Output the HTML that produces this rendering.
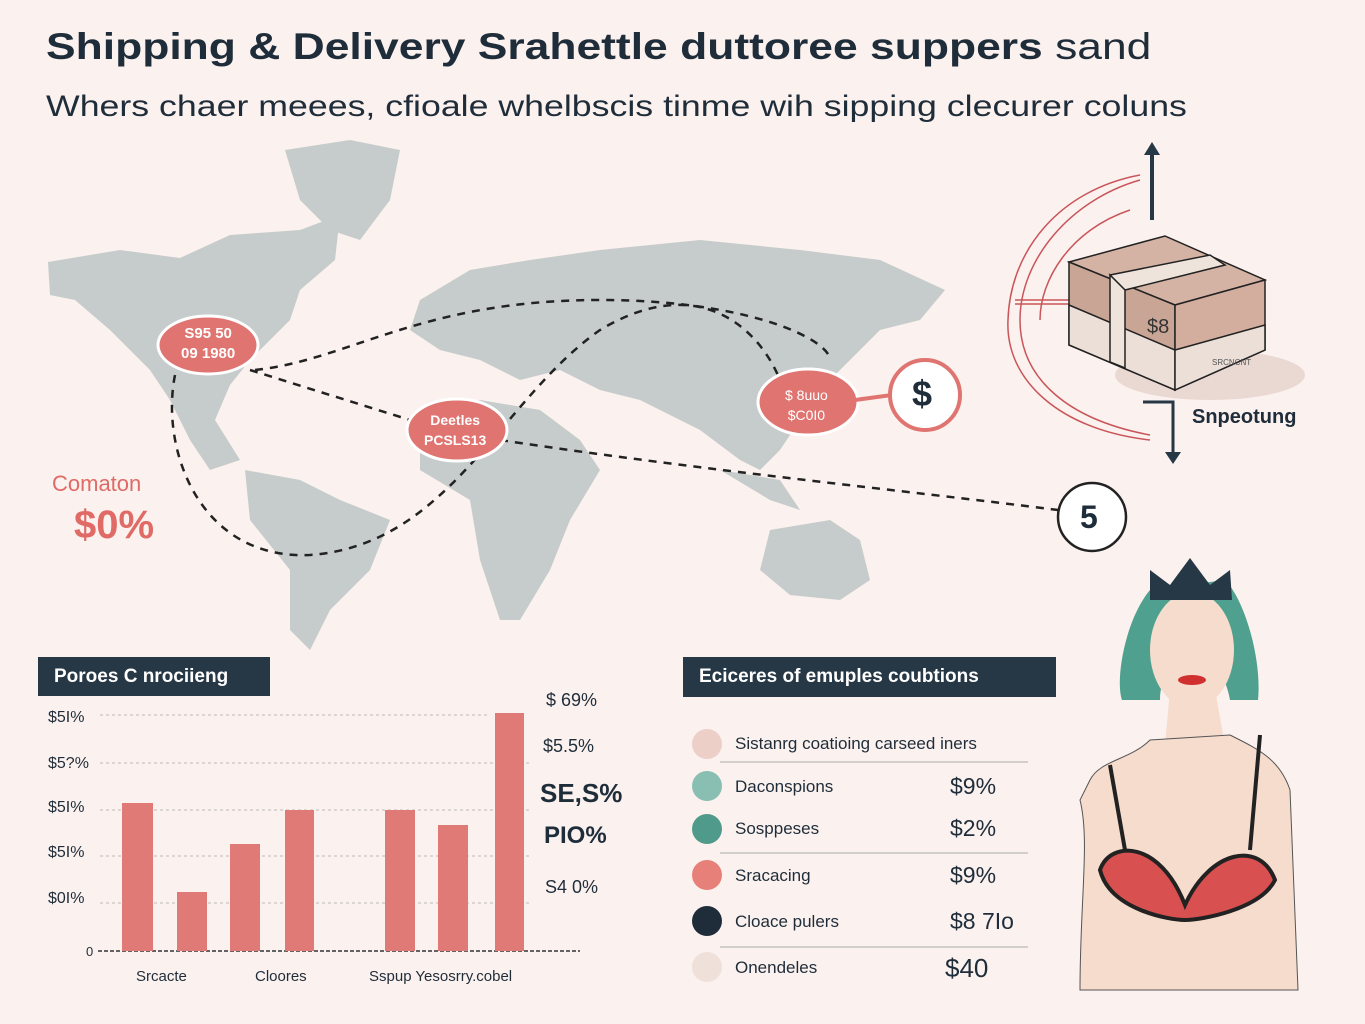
<!DOCTYPE html>
<html><head><meta charset="utf-8"><style>
body{margin:0;width:1365px;height:1024px;background:#fbf1ee;position:relative;overflow:hidden;font-family:"Liberation Sans",sans-serif;color:#1f2d3a}
.a{position:absolute;white-space:nowrap}
.hd{position:absolute;background:#263745;color:#fff;font-weight:bold;font-size:19px;line-height:39px;padding-left:16px}
</style></head><body>
<div class="a" style="left:46px;top:26px;font-size:37px;font-weight:bold;transform:scaleX(1.2);transform-origin:0 0">Shipping &amp; Delivery Srahettle duttoree suppers <span style="font-weight:normal">sand</span></div>
<div class="a" style="left:46px;top:90px;font-size:30px;transform:scaleX(1.19);transform-origin:0 0">Whers chaer meees, cfioale whelbscis tinme wih sipping clecurer coluns</div>
<svg class="a" style="left:0;top:0" width="1365" height="1024">
<g fill="#c6cccb">
<path d="M48 262 L120 250 L180 258 L230 235 L300 230 L340 215 L335 260 L300 290 L290 320 L250 360 L230 385 L215 420 L240 460 L210 470 L190 440 L170 400 L150 370 L110 330 L75 300 L50 295 Z"/>
<path d="M285 150 L350 140 L400 150 L390 200 L360 240 L330 230 L300 200 Z"/>
<path d="M245 470 L300 480 L340 500 L390 520 L370 570 L330 610 L310 650 L290 630 L290 570 L250 520 Z"/>
<path d="M420 300 L470 270 L530 260 L600 250 L700 240 L800 250 L880 260 L945 290 L920 320 L880 330 L860 350 L830 380 L800 420 L780 450 L760 470 L740 460 L700 430 L640 400 L600 390 L560 370 L520 380 L480 360 L440 350 L410 330 Z"/>
<path d="M420 420 L480 400 L540 410 L580 440 L600 470 L570 520 L550 570 L520 620 L500 620 L480 560 L470 500 L420 470 Z"/>
<path d="M720 470 L770 500 L800 510 L780 480 Z"/>
<path d="M770 530 L830 520 L860 540 L870 580 L840 600 L790 595 L760 570 Z"/>
</g>
<g fill="none" stroke="#222" stroke-width="2.5" stroke-dasharray="8 7">
<path d="M255 370 C350 360 420 300 600 300 C750 300 830 340 830 360"/>
<path d="M175 375 C160 450 200 560 310 555 C450 545 500 400 600 330 C700 270 760 330 780 380"/>
<path d="M250 370 L410 420"/>
<path d="M500 440 C700 470 900 490 1058 510"/>
</g>
<ellipse cx="208" cy="345" rx="50" ry="29" fill="#e07470" stroke="#fff" stroke-width="3"/>
<ellipse cx="457" cy="430" rx="50" ry="31" fill="#e07470" stroke="#fff" stroke-width="3"/>
<ellipse cx="808" cy="402" rx="50" ry="33" fill="#e07470" stroke="#fff" stroke-width="3"/>
<path d="M855 400 L892 395" stroke="#e07470" stroke-width="4"/>
<circle cx="925" cy="395" r="35" fill="#fff" stroke="#e07470" stroke-width="4"/>
<circle cx="1092" cy="517" r="34" fill="#fff" stroke="#222" stroke-width="2.5"/>
<g fill="none" stroke="#c9555a" stroke-width="1.5">
<path d="M1140 175 C1060 190 1010 250 1008 320 C1005 380 1060 430 1150 440"/>
<path d="M1140 180 C1070 200 1020 260 1020 320 C1020 380 1070 420 1150 435"/>
<path d="M1130 210 C1070 230 1040 280 1040 320"/>
<path d="M1015 300 L1070 300 M1015 304 L1070 304"/>
</g>
<path d="M1152 220 L1152 150" stroke="#263745" stroke-width="4"/><path d="M1144 155 L1152 142 L1160 155 Z" fill="#263745"/>
<path d="M1143 402 L1173 402 L1173 455" fill="none" stroke="#263745" stroke-width="3"/><path d="M1165 452 L1173 464 L1181 452 Z" fill="#263745"/>
<ellipse cx="1210" cy="375" rx="95" ry="25" fill="#ead8d3"/>
<g stroke="#222" stroke-width="1.5">
<path d="M1069 262 L1165 236 L1265 280 L1175 305 Z" fill="#d4b3a5"/>
<path d="M1069 262 L1175 305 L1175 390 L1069 345 Z" fill="#c9a596"/>
<path d="M1175 305 L1265 280 L1265 350 L1175 390 Z" fill="#d3ae9f"/>
<path d="M1069 305 L1175 350 L1175 390 L1069 345 Z" fill="#ebdfd8"/>
<path d="M1175 350 L1265 325 L1265 350 L1175 390 Z" fill="#ebdfd8"/>
<path d="M1110 275 L1210 255 L1225 265 L1125 290 Z" fill="#efe4dc"/>
<path d="M1110 275 L1125 290 L1125 368 L1110 362 Z" fill="#efe4dc"/>
</g>
<text x="1147" y="333" font-size="20" fill="#333">$8</text>
<text x="1212" y="365" font-size="8" fill="#555">SRCNCNT</text>
<g stroke="#bbb" stroke-width="1" stroke-dasharray="3 3">
<path d="M100 715 L490 715 M100 763 L530 763 M100 810 L530 810 M100 856 L530 856 M100 903 L530 903"/></g>
<path d="M98 951 L580 951" stroke="#333" stroke-width="1.5" stroke-dasharray="4 2"/>
<g fill="#e07a76">
<rect x="122" y="803" width="31" height="148"/><rect x="177" y="892" width="30" height="59"/>
<rect x="230" y="844" width="30" height="107"/><rect x="285" y="810" width="29" height="141"/>
<rect x="385" y="810" width="30" height="141"/><rect x="438" y="825" width="30" height="126"/>
<rect x="495" y="713" width="29" height="238"/></g>
<g fill="none" stroke="#aaa" stroke-width="1"><path d="M720 762 L1028 762 M720 853 L1028 853 M720 947 L1028 947"/></g>
<circle cx="707" cy="744" r="15" fill="#ecd0c8"/><circle cx="707" cy="786" r="15" fill="#88bfb2"/>
<circle cx="707" cy="829" r="15" fill="#4f9a8a"/><circle cx="707" cy="875" r="15" fill="#e8807a"/>
<circle cx="707" cy="921" r="15" fill="#1f2d3a"/><circle cx="707" cy="967" r="15" fill="#efe0da"/>
<path d="M1170 690 L1165 745 L1225 745 L1215 690 Z" fill="#f5dccd"/>
<path d="M1090 780 C1100 760 1130 760 1150 740 L1230 735 C1260 750 1280 760 1290 790 L1298 990 L1080 990 C1080 900 1090 840 1080 800 Z" fill="#f5dccd" stroke="#555" stroke-width="1"/>
<path d="M1150 590 C1125 620 1115 680 1122 700 L1160 700 C1160 650 1220 640 1230 700 L1258 700 C1262 660 1245 600 1225 580 Z" fill="#4fa08f"/>
<ellipse cx="1192" cy="650" rx="42" ry="58" fill="#f5dccd"/>
<path d="M1150 600 L1150 570 L1170 585 L1190 558 L1210 585 L1230 570 L1232 600 Z" fill="#263745"/>
<ellipse cx="1192" cy="680" rx="14" ry="5" fill="#d03030"/>
<path d="M1100 870 C1110 840 1160 840 1185 905 C1210 850 1260 840 1275 880 C1260 910 1200 920 1185 920 C1170 920 1110 910 1100 870 Z" fill="#d85050" stroke="#222" stroke-width="4"/>
<path d="M1110 765 L1125 850 M1260 735 L1250 850" stroke="#222" stroke-width="4"/>
</svg>
<div class="a" style="left:181px;top:324px;color:#fff;font-size:15px;line-height:20px;text-align:center;font-weight:bold">S95 50<br>09 1980</div>
<div class="a" style="left:424px;top:410px;color:#fff;font-size:14px;line-height:20px;text-align:center;font-weight:bold">Deetles<br>PCSLS13</div>
<div class="a" style="left:785px;top:385px;color:#fff;font-size:14px;line-height:20px;text-align:center">$ 8uuo<br>$C0I0</div>
<div class="a" style="left:912px;top:373px;font-size:36px;font-weight:bold">$</div>
<div class="a" style="left:1080px;top:499px;font-size:32px;font-weight:bold">5</div>
<div class="a" style="left:52px;top:471px;font-size:22px;color:#e06a65">Comaton</div>
<div class="a" style="left:74px;top:503px;font-size:40px;font-weight:bold;color:#e06a65">$0%</div>
<div class="a" style="left:1192px;top:406px;font-size:20px;font-weight:bold">Snpeotung</div>
<div class="hd" style="left:38px;top:657px;width:216px;height:39px">Poroes C nrociieng</div>
<div class="hd" style="left:683px;top:657px;width:357px;height:40px">Eciceres of emuples coubtions</div>
<div class="a" style="left:48px;top:710px;font-size:16px;line-height:1">$5I%</div>
<div class="a" style="left:48px;top:755px;font-size:16px">$5?%</div>
<div class="a" style="left:48px;top:799px;font-size:16px">$5I%</div>
<div class="a" style="left:48px;top:844px;font-size:16px">$5I%</div>
<div class="a" style="left:48px;top:890px;font-size:16px">$0I%</div>
<div class="a" style="left:86px;top:944px;font-size:13px">0</div>
<div class="a" style="left:546px;top:690px;font-size:18px">$ 69%</div>
<div class="a" style="left:543px;top:736px;font-size:18px">$5.5%</div>
<div class="a" style="left:540px;top:778px;font-size:26px;font-weight:bold">SE,S%</div>
<div class="a" style="left:544px;top:822px;font-size:24px;font-weight:bold">PIO%</div>
<div class="a" style="left:545px;top:877px;font-size:18px">S4 0%</div>
<div class="a" style="left:136px;top:968px;font-size:15px">Srcacte</div>
<div class="a" style="left:255px;top:968px;font-size:15px">Cloores</div>
<div class="a" style="left:369px;top:968px;font-size:15px">Sspup Yesosrry.cobel</div>
<div class="a" style="left:735px;top:734px;font-size:17px">Sistanrg  coatioing carseed iners</div>
<div class="a" style="left:735px;top:777px;font-size:17px">Daconspions</div>
<div class="a" style="left:735px;top:819px;font-size:17px">Sosppeses</div>
<div class="a" style="left:735px;top:866px;font-size:17px">Sracacing</div>
<div class="a" style="left:735px;top:912px;font-size:17px">Cloace pulers</div>
<div class="a" style="left:735px;top:958px;font-size:17px">Onendeles</div>
<div class="a" style="left:950px;top:773px;font-size:23px">$9%</div>
<div class="a" style="left:950px;top:815px;font-size:23px">$2%</div>
<div class="a" style="left:950px;top:862px;font-size:23px">$9%</div>
<div class="a" style="left:950px;top:908px;font-size:23px">$8 7Io</div>
<div class="a" style="left:945px;top:953px;font-size:26px">$40</div>
</body></html>
